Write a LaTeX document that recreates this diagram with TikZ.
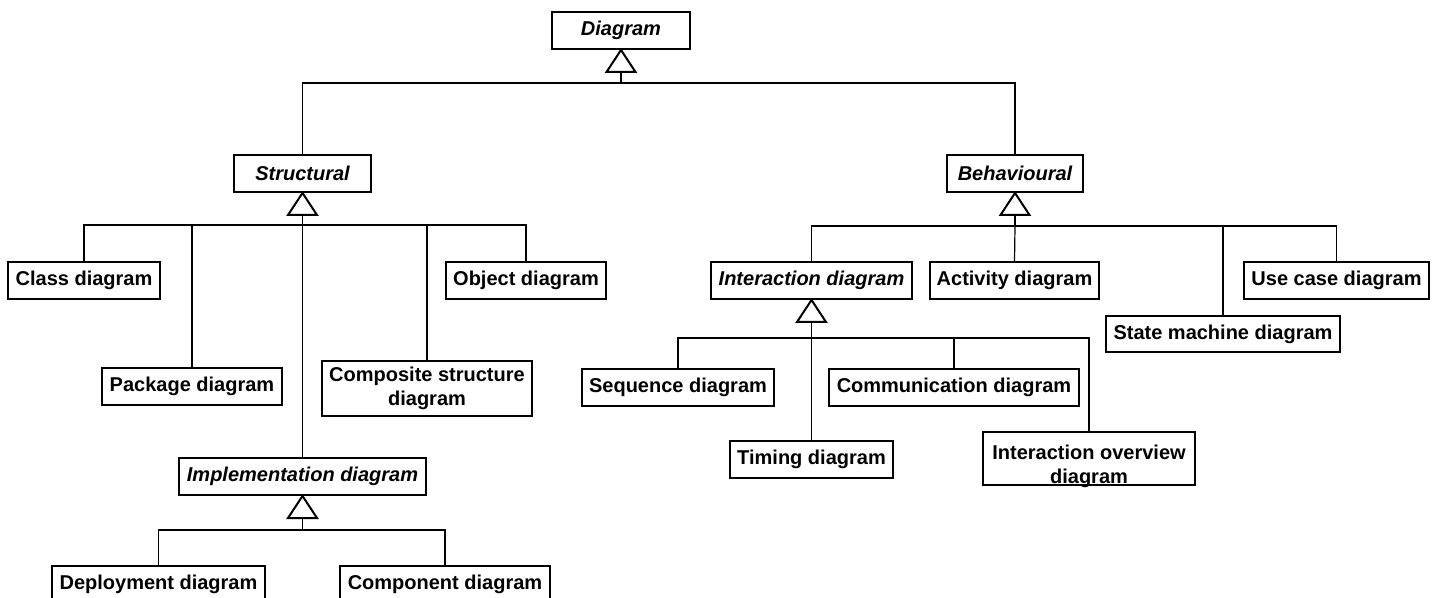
\documentclass[tikz,border=0pt]{standalone}
\usepackage{fontspec}
\setmainfont{Liberation Sans}
\usepackage{tikz}
\usetikzlibrary{calc}
\tikzset{
  umlbox/.style={draw, line width=1pt, inner sep=0pt, align=center,
    font=\fontsize{10}{12}\selectfont\bfseries},
  absbox/.style={umlbox, font=\fontsize{10}{12}\selectfont\bfseries\itshape},
  link/.style={line width=0.6pt},
  tri/.style={line width=1pt, fill=white, line join=miter}
}
% box from corner (x1,y1) to (x2,y2), in pixels of the drawing
\newcommand{\concbox}[6]{\node[umlbox, minimum width={(#4-#2)*0.5pt}, minimum height={(#5-#3)*0.5pt}] (#1) at ({(#2+#4)/2},{(#3+#5)/2}) {#6};}
\newcommand{\absbox}[6]{\node[absbox, minimum width={(#4-#2)*0.5pt}, minimum height={(#5-#3)*0.5pt}] (#1) at ({(#2+#4)/2},{(#3+#5)/2}) {#6};}
% generalisation triangle under a box, and the stem down to its bus
\newcommand{\gentri}[2]{\draw[link] ($(#1.south)+(0,22)$) -- ($(#1.south)+(0,#2)$) coordinate (#1-bus);
  \draw[tri] (#1.south) -- ++(-14.5,22) -- ++(29,0) -- cycle;}

\begin{document}
\begin{tikzpicture}[x=0.5pt, y=-0.5pt]
  \fill[white] (0,0) rectangle (1438,598);
  \useasboundingbox (0,0) rectangle (1438,598);

  % top
  \absbox{diagram}{552}{12}{690}{49}{Diagram}
  \absbox{structural}{234}{155}{371}{192}{Structural}
  \absbox{behavioural}{947}{155}{1083}{192}{Behavioural}

  % structural side
  \concbox{classd}{8}{262}{160}{299}{Class diagram}
  \concbox{packaged}{102}{368}{282}{405}{Package diagram}
  \concbox{composited}{322}{361}{532}{416}{Composite structure\\diagram}
  \concbox{objectd}{446}{262}{606}{299}{Object diagram}
  \absbox{implementation}{179}{458}{426}{495}{Implementation diagram}
  \concbox{deployment}{52}{566}{265}{603}{Deployment diagram}
  \concbox{component}{340}{566}{550}{603}{Component diagram}

  % behavioural side
  \absbox{interaction}{711}{262}{912}{299}{Interaction diagram}
  \concbox{activity}{930}{262}{1099}{299}{Activity diagram}
  \concbox{statemachine}{1106}{316}{1340}{352}{State machine diagram}
  \concbox{usecase}{1244}{262}{1429}{299}{Use case diagram}
  \concbox{sequence}{582}{369}{774}{406}{Sequence diagram}
  \concbox{communication}{829}{369}{1079}{406}{Communication diagram}
  \concbox{timing}{730}{441}{893}{478}{Timing diagram}
  \node[umlbox, minimum width=106pt, text height=25.5pt, text depth=1pt]
    (overview) at (1089,458.5) {Interaction overview\\diagram};

  % generalisations
  \gentri{diagram}{33}
  \draw[link] (structural.north) |- (diagram-bus);
  \draw[link] (behavioural.north) |- (diagram-bus);

  \gentri{structural}{32}
  \draw[link] (classd.north) |- (structural-bus);
  \draw[link] (packaged.north) |- (structural-bus);
  \draw[link] (composited.north) |- (structural-bus);
  \draw[link] (objectd.north) |- (structural-bus);
  \draw[link] (implementation.north) -- (structural-bus);

  \gentri{implementation}{34}
  \draw[link] (deployment.north) |- (implementation-bus);
  \draw[link] (component.north) |- (implementation-bus);

  \gentri{behavioural}{33}
  \draw[link] (interaction.north) |- (behavioural-bus);
  \draw[link] (activity.north) -- (behavioural-bus);
  \draw[link] (statemachine.north) |- (behavioural-bus);
  \draw[link] (usecase.north) |- (behavioural-bus);

  \gentri{interaction}{38}
  \draw[link] (sequence.north) |- (interaction-bus);
  \draw[link] (communication.north) |- (interaction-bus);
  \draw[link] (timing.north) -- (interaction-bus);
  \draw[link] (overview.north) |- (interaction-bus);
\end{tikzpicture}
\end{document}
